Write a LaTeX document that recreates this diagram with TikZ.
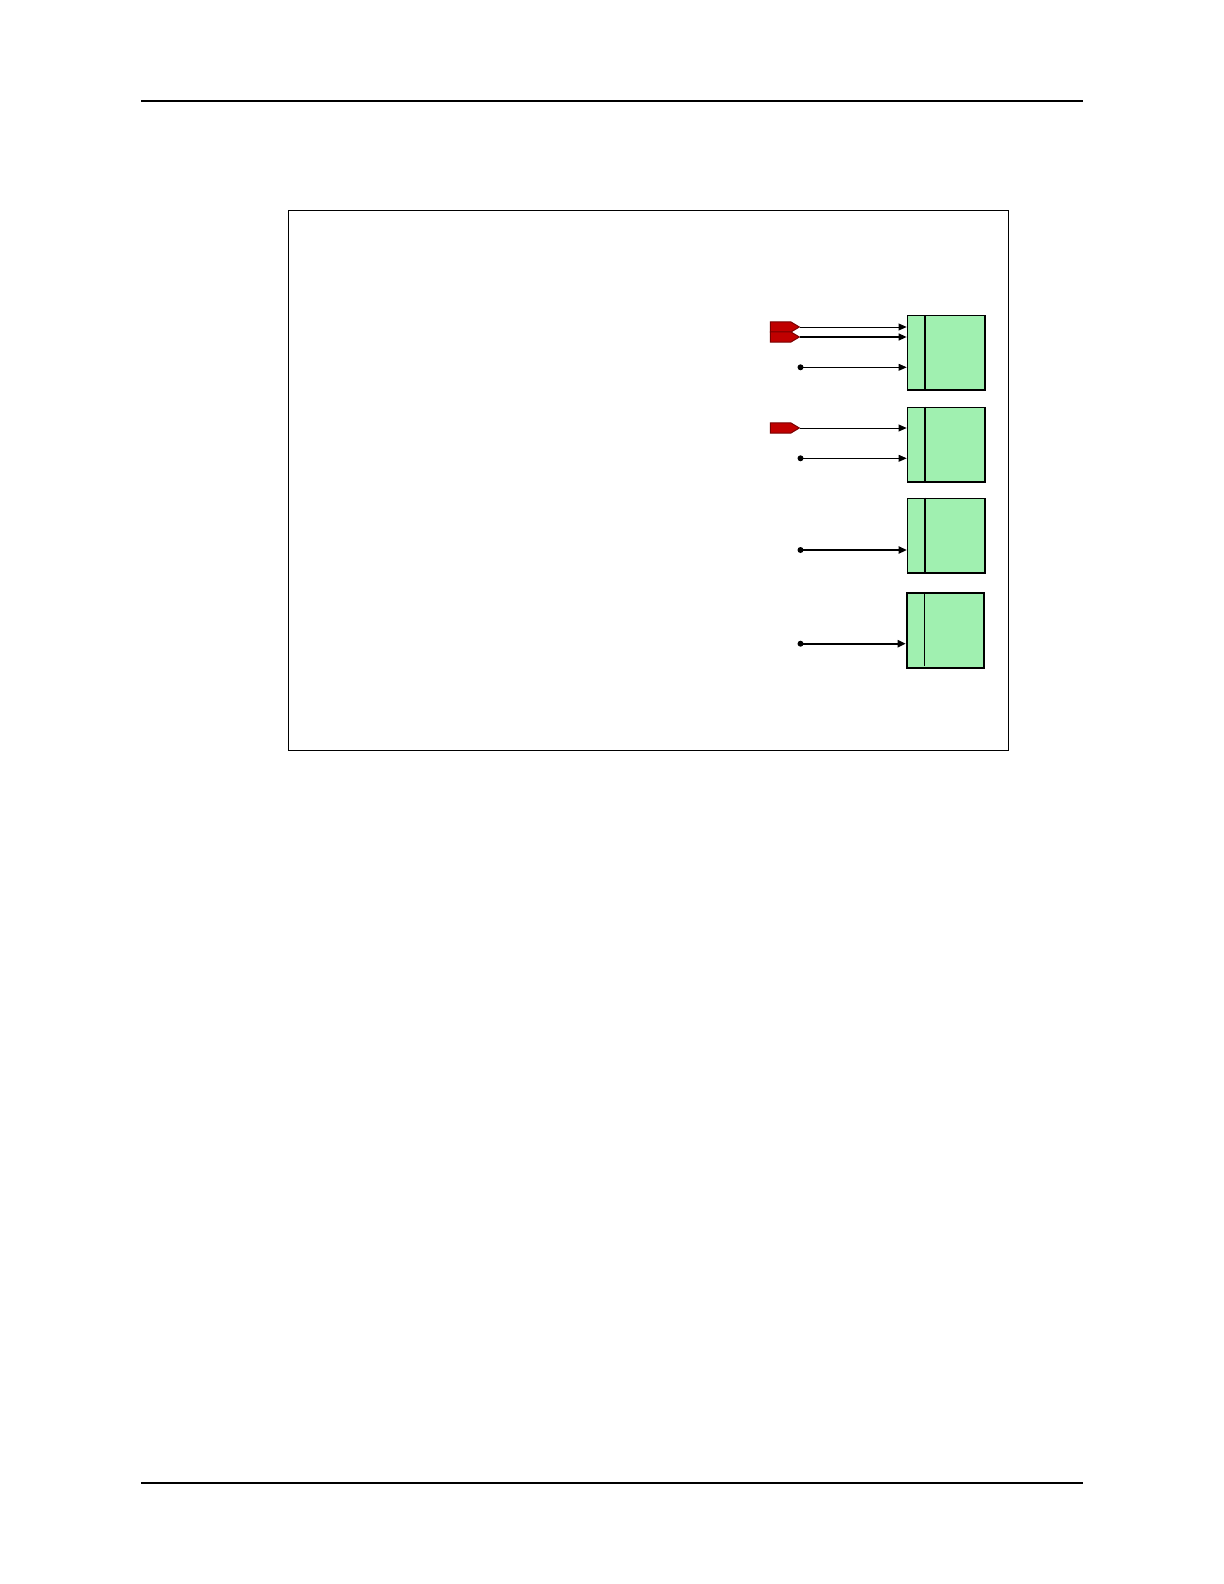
\documentclass[tikz,border=0pt]{standalone}
\usetikzlibrary{shapes.symbols,arrows.meta}
\definecolor{boxgreen}{RGB}{160,240,176}
\definecolor{flagred}{RGB}{192,0,0}
\definecolor{flagedge}{RGB}{120,0,0}
\begin{document}
\begin{tikzpicture}[x=0.5pt,y=-0.5pt,
  regbox/.style={draw=black,fill=boxgreen,line width=0.7pt,rectangle,inner sep=0pt,
    minimum width=38.8pt,minimum height=37.2pt,anchor=north west},
  flag/.style={signal,signal to=east,signal pointer angle=62,draw=flagedge,fill=flagred,
    line width=0.5pt,inner sep=0pt,minimum width=14.5pt,minimum height=5.2pt},
  dotnode/.style={circle,fill=black,inner sep=0pt,minimum size=3pt},
  conn/.style={-{Triangle[length=4pt,width=3.4pt]},line width=0.5pt},
  connb/.style={-{Triangle[length=4pt,width=3.6pt]},line width=0.85pt}]
\useasboundingbox (0,0) rectangle (1224,1584);
% page rules
\draw[line width=0.6pt] (141,101) -- (1083,101);
\draw[line width=0.9pt] (141,1483) -- (1083,1483);
% frame
\draw[line width=0.5pt] (288,210) rectangle (1008,750);
% boxes
\node[regbox] (b1) at (906.7,315) {};
\node[regbox] (b2) at (906.7,406.7) {};
\node[regbox] (b3) at (906.7,497.7) {};
\node[regbox,line width=0.9pt] (b4) at (905.7,592.3) {};
\draw[line width=1pt] (924.7,315) -- (924.7,389.3);
\draw[line width=1pt] (924.7,406.7) -- (924.7,481);
\draw[line width=1pt] (925,497.7) -- (925,572.3);
\draw[line width=0.6pt] (924.3,592.3) -- (924.3,666);
% flags
\node[flag] (f1) at (780.5,327) {};
\node[flag] (f2) at (780.5,337) {};
\node[flag] (f3) at (780.5,428) {};
% dots
\node[dotnode] (d1) at (800.5,367.3) {};
\node[dotnode] (d2) at (800.5,458.3) {};
\node[dotnode] (d3) at (800.5,550) {};
\node[dotnode] (d4) at (800.5,643.7) {};
% connectors
\draw[conn] (f1.east) -- (f1.east -| b1.west);
\draw[conn,line width=0.8pt] (f2.east) -- (f2.east -| b1.west);
\draw[conn] (d1.center) -- (d1.center -| b1.west);
\draw[conn] (f3.east) -- (f3.east -| b2.west);
\draw[conn] (d2.center) -- (d2.center -| b2.west);
\draw[connb] (d3.center) -- (d3.center -| b3.west);
\draw[connb] (d4.center) -- (d4.center -| b4.west);
\end{tikzpicture}
\end{document}
